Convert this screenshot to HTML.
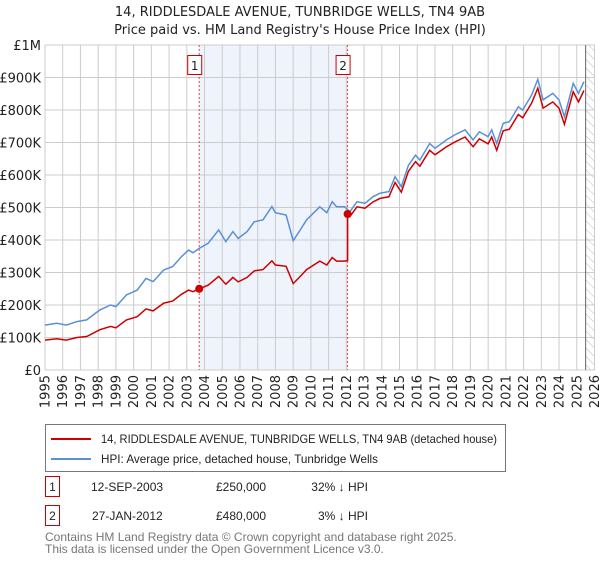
<!DOCTYPE html>
<html><head><meta charset="utf-8">
<style>
body{margin:0;background:#fff;font-family:"Liberation Sans","DejaVu Sans",sans-serif;}
svg text{font-family:"DejaVu Sans","Liberation Sans",sans-serif;}
svg text.lib{font-family:"Liberation Sans","DejaVu Sans",sans-serif;}
</style></head>
<body>
<svg id="chart" width="600" height="560" viewBox="0 0 600 560" xmlns="http://www.w3.org/2000/svg">
<defs>
<pattern id="hatch" patternUnits="userSpaceOnUse" width="6" height="6" patternTransform="rotate(-45)">
<line x1="0" y1="0" x2="0" y2="6" stroke="#bbb" stroke-width="1"/>
</pattern>
</defs>
<text x="300" y="16" text-anchor="middle" font-size="13" fill="#222">14, RIDDLESDALE AVENUE, TUNBRIDGE WELLS, TN4 9AB</text>
<text x="300" y="34" text-anchor="middle" font-size="13" fill="#222">Price paid vs. HM Land Registry's House Price Index (HPI)</text>
<g id="plot"></g>
<g>
<rect x="45.5" y="424.5" width="460" height="47" fill="#fff" stroke="#777"/>
<line x1="51" y1="439" x2="91" y2="439" stroke="#cc0000" stroke-width="2"/>
<text class="lib" x="101" y="443" font-size="12" fill="#222" textLength="396" lengthAdjust="spacingAndGlyphs">14, RIDDLESDALE AVENUE, TUNBRIDGE WELLS, TN4 9AB (detached house)</text>
<line x1="51" y1="459" x2="91" y2="459" stroke="#5b8fd6" stroke-width="2"/>
<text class="lib" x="101" y="463" font-size="12" fill="#222" textLength="277" lengthAdjust="spacingAndGlyphs">HPI: Average price, detached house, Tunbridge Wells</text>
</g>
<g font-size="12" fill="#222">
<rect x="45.5" y="476.5" width="14" height="20" fill="#fff" stroke="#cc0000"/>
<text class="lib" x="52.5" y="491" text-anchor="middle">1</text>
<text class="lib" x="91" y="491">12-SEP-2003</text>
<text class="lib" x="216" y="491">£250,000</text>
<text class="lib" x="368" y="491" text-anchor="end">32% ↓ HPI</text>
<rect x="45.5" y="505.5" width="14" height="20" fill="#fff" stroke="#cc0000"/>
<text class="lib" x="52.5" y="520" text-anchor="middle">2</text>
<text class="lib" x="92" y="520">27-JAN-2012</text>
<text class="lib" x="216" y="520">£480,000</text>
<text class="lib" x="368" y="520" text-anchor="end">3% ↓ HPI</text>
</g>
<text class="lib" x="45" y="541" font-size="12" fill="#777">Contains HM Land Registry data © Crown copyright and database right 2025.</text>
<text class="lib" x="45" y="553" font-size="12" fill="#777">This data is licensed under the Open Government Licence v3.0.</text>
</svg>
<script>
const hpiDates=[1995.0,1995.66,1996.2,1996.8,1997.35,1998.1,1998.7,1999.0,1999.6,2000.2,2000.7,2001.1,2001.7,2002.2,2002.7,2003.1,2003.35,2003.7,2004.2,2004.8,2005.2,2005.6,2005.9,2006.4,2006.8,2007.3,2007.8,2008.0,2008.6,2009.0,2009.4,2009.76,2010.5,2010.9,2011.2,2011.45,2011.9,2012.2,2012.6,2013.05,2013.5,2013.9,2014.4,2014.75,2015.1,2015.5,2015.9,2016.15,2016.7,2017.0,2017.65,2018.1,2018.7,2019.15,2019.5,2020.0,2020.2,2020.48,2020.85,2021.2,2021.7,2021.95,2022.45,2022.8,2023.1,2023.65,2024.0,2024.3,2024.8,2025.1,2025.4];
const hpiValues=[138,144,138,149,154,185,200,195,231,246,282,272,308,318,349,369,361,374,390,431,395,426,405,426,456,462,503,484,477,398,431,462,502,484,518,502,502,487,518,513,533,544,549,595,564,630,661,646,697,682,708,723,739,708,733,718,739,697,759,764,810,800,846,894,831,851,831,779,882,851,887];
const priceDates=[1995.0,1995.66,1996.2,1996.8,1997.35,1998.1,1998.7,1999.0,1999.6,2000.2,2000.7,2001.1,2001.7,2002.2,2002.7,2003.1,2003.35,2003.7,2004.2,2004.8,2005.2,2005.6,2005.9,2006.4,2006.8,2007.3,2007.8,2008.0,2008.6,2009.0,2009.4,2009.76,2010.5,2010.9,2011.2,2011.45,2011.9,2012.07,2012.07,2012.2,2012.6,2013.05,2013.5,2013.9,2014.4,2014.75,2015.1,2015.5,2015.9,2016.15,2016.7,2017.0,2017.65,2018.1,2018.7,2019.15,2019.5,2020.0,2020.2,2020.48,2020.85,2021.2,2021.7,2021.95,2022.45,2022.8,2023.1,2023.65,2024.0,2024.3,2024.8,2025.1,2025.4];
const priceValues=[92,96,92,100,103,124,134,130,154,164,188,182,206,212,233,246,241,250,261,288,264,285,271,285,305,309,336,323,319,266,288,309,335,323,346,335,335,337,480,472,502,498,517,528,533,577,547,611,641,627,676,662,687,701,717,687,711,696,717,676,736,741,786,776,821,867,806,825,806,756,856,825,860];
const saleDates=[2003.7,2012.07];
const saleValues=[250,480];
const saleLabels=["1","2"];
const yTicks=[0,100,200,300,400,500,600,700,800,900,1000];
const yTickLabels=["£0","£100K","£200K","£300K","£400K","£500K","£600K","£700K","£800K","£900K","£1M"];
const xYears=[1995,1996,1997,1998,1999,2000,2001,2002,2003,2004,2005,2006,2007,2008,2009,2010,2011,2012,2013,2014,2015,2016,2017,2018,2019,2020,2021,2022,2023,2024,2025,2026];
const forecastStart=2025.5;

const X0=45,X1=594.5,Y0=370,Y1=45;
const xs=y=>X0+(y-1995)/(2026-1995)*(X1-X0);
const ys=v=>Y0-v/1000*(Y0-Y1);
const NS="http://www.w3.org/2000/svg";
const plot=document.getElementById('plot');
function mk(tag,attrs,parent){const e=document.createElementNS(NS,tag);for(const k in attrs)e.setAttribute(k,attrs[k]);(parent||plot).appendChild(e);return e;}

let sh=mk('rect',{x:xs(saleDates[0]),y:Y1,width:xs(saleDates[1])-xs(saleDates[0]),height:Y0-Y1,fill:'#eef3fc'});


let ht=mk('rect',{x:xs(forecastStart),y:Y1,width:X1-xs(forecastStart),height:Y0-Y1,fill:'url(#hatch)'});


xYears.forEach(yr=>{
  const x=xs(yr);
  const g=mk('line',{x1:x,y1:Y1,x2:x,y2:Y0,stroke:'#cccccc','stroke-width':1});
  
  
  const t=mk('text',{x:0,y:0,transform:`translate(${x+4.5},375) rotate(-90)`,'text-anchor':'end','font-size':13,fill:'#222'});
  t.textContent=String(yr);
  
  
});
yTicks.forEach((v,i)=>{
  const y=ys(v);
  const g=mk('line',{x1:X0,y1:y,x2:X1,y2:y,stroke:'#cccccc','stroke-width':1});
  
  
  const t=mk('text',{x:41,y:y+5,'text-anchor':'end','font-size':13,fill:'#222'});
  t.textContent=yTickLabels[i];
  
  
});
let fl=mk('line',{x1:xs(forecastStart),y1:Y1,x2:xs(forecastStart),y2:Y0,stroke:'#666','stroke-width':1});


saleDates.forEach((d,i)=>{
  const x=xs(d);
  const l=mk('line',{x1:x,y1:Y1,x2:x,y2:Y0,stroke:'#ee4444','stroke-width':1,'stroke-dasharray':'2,2'});
  
  
  const r=mk('rect',{x:x-11.5,y:55.5,width:14,height:19,fill:'#fff',stroke:'#cc0000'});
  
  
  const t=mk('text',{x:x-4.5,y:70,'text-anchor':'middle','font-size':12,fill:'#222'});
  t.textContent=saleLabels[i];
  
  
});
const hp=mk('path',{d:hpiDates.map((d,i)=>(i?'L':'M')+xs(d).toFixed(1)+','+ys(hpiValues[i]).toFixed(1)).join(''),fill:'none',stroke:'#5b8fd6','stroke-width':1.5});


const pp=mk('path',{d:priceDates.map((d,i)=>(i?'L':'M')+xs(d).toFixed(1)+','+ys(priceValues[i]).toFixed(1)).join(''),fill:'none',stroke:'#cc0000','stroke-width':1.5});


saleDates.forEach((d,i)=>{
  const c=mk('circle',{cx:xs(d),cy:ys(saleValues[i]),r:4,fill:'#cc0000'});
  
  
});
</script>
</body></html>
